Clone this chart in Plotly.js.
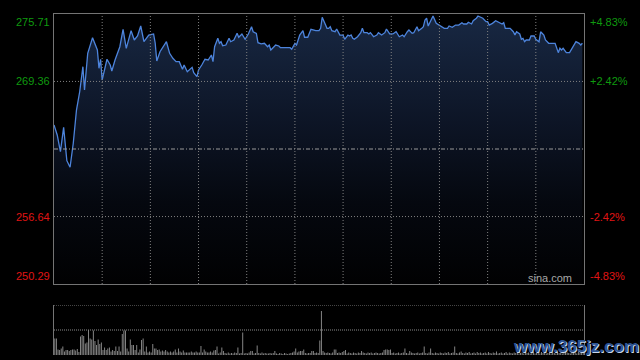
<!DOCTYPE html>
<html><head><meta charset="utf-8">
<script src="https://cdn.plot.ly/plotly-3.0.1.min.js"></script>
<style>html,body{margin:0;padding:0;background:#000;}#chart{width:640px;height:360px;}</style>
</head><body><div id="chart"></div>
<script>
// ---- data ----
const minutes = [
0,2,4,6,8,10,12,14,16,18,
19,21,24,27,28,29,30,33,35,36,
38,41,43,45,48,50,52,54,56,59,
62,63,64,66,70,72,74,76,78,80,
81,83,86,87,89,90,92,94,96,98,
99,100,102,103,104,105,107,109,110,112,
114,115,117,118,119,121,123,124,126,127,
129,131,133,134,135,137,138,140,141,147,
148,150,151,153,155,156,158,160,163,165,
166,167,168,169,170,171,172,173,175,176,
177,178,180,181,183,184,185,186,187,189,
191,192,193,195,196,197,199,201,202,204,
206,207,209,211,213,215,217,218,220,221,
223,224,226,227,229,230,231,232,233,235,
236,238,240,243,245,246,248,250,252,254,
255,257,258,260,261,263,264,266,267,269,
270,271,273,275,277,279,280,281,284,286,
287,288,290,291,292,293,294,296,297,299,
300,302,303,305,306,308,312,313,314,315,
316,317,319,321,323,325,327,328,329];
const prices = [
265.26,264.32,262.75,265.04,261.90,261.28,263.54,266.67,268.39,270.75,
268.55,272.01,273.48,272.32,270.60,271.45,269.50,271.45,270.91,270.34,
271.38,272.63,274.27,272.48,274.14,273.26,273.64,274.58,273.10,273.73,
273.83,272.98,271.29,272.16,273.10,272.01,271.54,271.22,271.22,270.50,
270.91,270.28,270.69,270.18,269.81,270.44,270.91,271.45,271.38,271.85,
271.22,272.63,273.42,272.95,273.10,272.73,272.79,273.42,273.10,273.26,
273.89,273.52,273.83,273.52,273.33,273.83,274.51,274.04,273.89,273.01,
272.89,272.95,272.63,272.79,272.32,272.63,272.79,272.70,272.54,272.54,
272.39,272.95,272.79,273.73,274.14,273.52,273.52,274.27,274.14,274.14,
274.36,275.40,274.99,274.77,274.36,274.36,274.51,274.14,274.04,274.30,
274.04,273.73,273.73,273.33,273.73,273.64,273.73,273.42,273.33,273.57,
273.95,274.36,273.95,273.95,273.83,273.95,273.57,273.73,273.95,273.73,
273.95,274.30,273.83,273.83,274.04,273.57,273.73,273.57,274.04,274.20,
273.89,273.95,274.51,274.14,274.36,274.51,275.15,275.31,274.58,275.15,
275.52,274.83,274.67,274.36,274.36,274.58,274.46,274.67,274.67,274.89,
274.77,274.77,274.93,274.77,275.08,275.31,275.52,275.40,275.31,274.99,
274.99,274.67,274.83,275.08,274.89,274.77,274.89,274.36,274.36,274.04,
273.73,274.04,273.83,273.33,273.42,273.10,273.26,273.26,273.64,273.64,
273.33,273.10,274.04,273.73,273.26,272.95,272.95,272.57,272.07,272.48,
272.32,272.48,272.07,272.07,272.57,273.10,272.95,272.79,272.95];
const volumes = [
33,33,11,10,13,17,7,10,10,8,
10,11,11,9,12,6,37,40,38,23,
25,50,33,31,49,28,20,31,22,25,
10,15,10,13,15,7,10,8,17,8,
17,7,42,49,49,13,7,31,20,20,
10,20,5,11,30,33,7,17,5,7,
5,22,13,13,10,11,7,9,7,10,
7,5,7,5,7,11,5,13,7,5,
9,5,5,5,5,7,5,5,7,5,
5,18,5,11,7,5,5,7,5,9,
10,17,3,5,15,8,4,3,5,3,
4,3,5,4,15,3,4,45,3,4,
3,5,8,8,3,4,19,4,3,5,
3,4,3,3,4,3,4,8,3,2,
4,3,2,4,3,2,3,4,5,7,
13,5,7,8,8,11,4,3,4,4,
8,8,4,5,4,29,88,8,5,4,
5,4,3,5,11,11,4,5,4,6,
8,10,3,5,4,3,5,4,3,5,
4,8,5,4,3,5,4,5,3,4,
5,4,3,4,5,10,11,11,10,11,
4,5,3,4,5,3,4,5,13,4,
3,8,5,4,3,4,5,3,4,5,
17,4,3,5,13,4,3,5,4,3,
5,4,3,5,4,6,3,4,5,17,
4,3,5,7,4,3,5,4,6,3,
4,5,3,6,4,5,3,4,5,3,
6,4,3,5,4,7,3,4,5,3,
4,6,3,5,4,3,5,4,6,3,
4,5,3,6,4,5,3,4,7,3,
4,5,3,6,4,5,3,4,6,3,
5,4,3,6,4,5,3,4,8,5,
4,3,6,4,5,3,7,4,5,9];
const prevClose = 263.00;
const priceLabels = [275.71, 269.36, 256.64, 250.29];
const pctLabels = ['+4.83%', '+2.42%', '-2.42%', '-4.83%'];
const gridMinutes = [30,60,90,120,150,180,210,240,270,300];
const volumeMax = 100;

// ---- build ----
const volIndex = volumes.map((v, i) => i);
const UP = '#0f9a0f', DOWN = '#e01414';
const FONT = 'Liberation Sans, Arial, sans-serif';
const yMin = priceLabels[priceLabels.length - 1], yMax = priceLabels[0];
const GRID = '#808080';

const traces = [
  {
    type: 'scatter', mode: 'lines', x: minutes, y: prices,
    line: {color: '#4d84dc', width: 1.3},
    fill: 'tozeroy',
    fillgradient: {type: 'vertical', start: yMin, stop: yMax,
      colorscale: [[0, '#010102'], [0.3, '#05080f'], [0.6, '#0d1526'], [1, '#182843']]},
    hoverinfo: 'skip', xaxis: 'x', yaxis: 'y'
  },
  {
    type: 'bar', x: volIndex, y: volumes,
    marker: {color: '#8a8a8a', line: {width: 0}},
    hoverinfo: 'skip', xaxis: 'x2', yaxis: 'y2'
  }
];

const annotations = [];
priceLabels.forEach((p, i) => {
  const col = p > prevClose ? UP : DOWN;
  const ya = i === 0 ? 'top' : (i === priceLabels.length - 1 ? 'bottom' : 'middle');
  annotations.push({xref: 'paper', yref: 'y', x: 0, y: p, xanchor: 'right', yanchor: ya,
    xshift: -2, text: p.toFixed(2), showarrow: false, font: {family: FONT, size: 11, color: col}});
  annotations.push({xref: 'paper', yref: 'y', x: 1, y: p, xanchor: 'left', yanchor: ya,
    xshift: 4, text: pctLabels[i], showarrow: false, font: {family: FONT, size: 11, color: col}});
});
annotations.push({xref: 'paper', yref: 'paper', x: 0.981, y: 0.226, xanchor: 'right', yanchor: 'middle',
  text: 'sina.com', showarrow: false, font: {family: FONT, size: 11, color: '#a8a8a8'}});
annotations.push({xref: 'paper', yref: 'paper', x: 0.985, y: 0.024, xanchor: 'center', yanchor: 'middle',
  xshift: 1, yshift: -1, text: '<b>www.365jz.com</b>', showarrow: false,
  font: {family: FONT, size: 17, color: '#c9d6ea'}});
annotations.push({xref: 'paper', yref: 'paper', x: 0.985, y: 0.024, xanchor: 'center', yanchor: 'middle',
  text: '<b>www.365jz.com</b>', showarrow: false, font: {family: FONT, size: 17, color: '#2d5494'}});

const shapes = [];
gridMinutes.forEach(m => shapes.push({type: 'line', layer: 'above', xref: 'x', yref: 'y',
  x0: m, x1: m, y0: yMin, y1: yMax, line: {color: GRID, width: 1, dash: '1px,2px'}}));
[priceLabels[1], priceLabels[2]].forEach(p => shapes.push({type: 'line', layer: 'above', xref: 'paper', yref: 'y',
  x0: 0, x1: 1, y0: p, y1: p, line: {color: GRID, width: 1, dash: '1px,2px'}}));
shapes.push({type: 'line', layer: 'above', xref: 'paper', yref: 'y', x0: 0, x1: 1, y0: prevClose, y1: prevClose,
  line: {color: '#9a9a9a', width: 1, dash: '4px,2px,1px,2px'}});
shapes.push({type: 'line', xref: 'paper', yref: 'y2', x0: 0, x1: 1, y0: volumeMax, y1: volumeMax,
  line: {color: '#8a8a8a', width: 1, dash: '1px,1px'}});
shapes.push({type: 'line', xref: 'paper', yref: 'y2', x0: 0, x1: 1, y0: volumeMax / 2, y1: volumeMax / 2,
  line: {color: '#8a8a8a', width: 1, dash: '1px,1px'}});

const layout = {
  width: 640, height: 360,
  margin: {l: 54, r: 56, t: 14, b: 5, pad: 0},
  paper_bgcolor: '#000', plot_bgcolor: '#000',
  showlegend: false, bargap: 0.4,
  xaxis: {domain: [0, 1], range: [0, 330], showgrid: false, showticklabels: false, ticks: '',
    showline: true, mirror: true, linecolor: '#747474', linewidth: 1, zeroline: false, fixedrange: true},
  yaxis: {domain: [0.2082, 1], range: [yMin, yMax], showgrid: false, showticklabels: false, ticks: '',
    showline: true, mirror: true, linecolor: '#747474', linewidth: 1, zeroline: false, fixedrange: true},
  xaxis2: {anchor: 'y2', domain: [0, 1], range: [-0.5, 329.5], showgrid: false, showticklabels: false,
    ticks: '', showline: false, zeroline: false, fixedrange: true},
  yaxis2: {anchor: 'x2', domain: [0, 0.1466], range: [0, volumeMax], showgrid: false,
    showticklabels: false, ticks: '',
    showline: true, mirror: true, linecolor: '#747474', linewidth: 1, zeroline: false, fixedrange: true},
  shapes: shapes,
  annotations: annotations
};

Plotly.newPlot('chart', traces, layout, {displayModeBar: false, staticPlot: true});
</script>
</body></html>
